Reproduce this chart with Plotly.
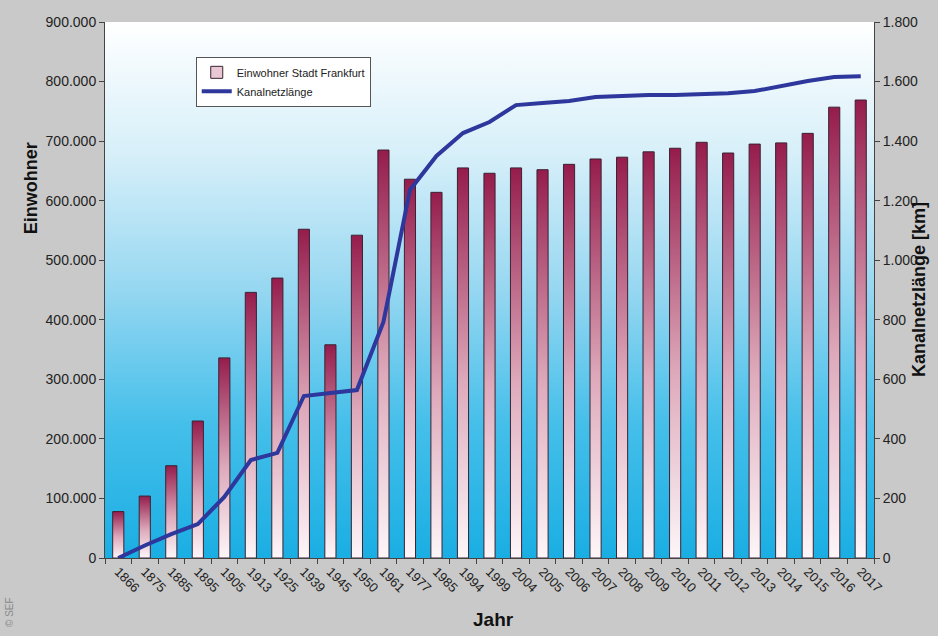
import plotly.graph_objects as go

years = ["1866", "1875", "1885", "1895", "1905", "1913", "1925", "1939", "1945", "1950",
         "1961", "1977", "1985", "1994", "1999", "2004", "2005", "2006", "2007", "2008",
         "2009", "2010", "2011", "2012", "2013", "2014", "2015", "2016", "2017"]
einwohner = [78000, 104000, 155000, 230000, 336000, 446000, 470000, 552000, 358000, 542000,
             685000, 636000, 614000, 655000, 646000, 655000, 652000, 661000, 670000, 673000,
             682000, 688000, 698000, 680000, 695000, 697000, 713000, 757000, 769000]
kanal = [0, 42, 80, 114, 205, 329, 353, 544, 554, 564,
         793, 1236, 1350, 1427, 1464, 1521, 1528, 1535, 1548, 1552,
         1555, 1555, 1558, 1561, 1568, 1585, 1602, 1615, 1618]

FONT = "Liberation Sans, Arial, sans-serif"
n = len(years)
idx = list(range(n))
bw = 0.42
xr = [-0.5, n - 0.5]
yr = [0, 900000]

fig = go.Figure()

# plot-area background gradient (white top -> cyan bottom)
fig.add_trace(go.Scatter(
    x=[xr[0], xr[1], xr[1], xr[0], xr[0]], y=[yr[0], yr[0], yr[1], yr[1], yr[0]],
    mode="lines", line=dict(width=0), fill="toself",
    fillgradient=dict(type="vertical",
                      colorscale=[[0, "#1aaee3"], [0.25, "#45bfea"], [0.5, "#96d7f1"],
                                  [0.75, "#d6eff9"], [1, "#ffffff"]]),
    hoverinfo="skip", showlegend=False))

# gradient bars
for i, v in zip(idx, einwohner):
    fig.add_trace(go.Scatter(
        x=[i - bw / 2, i + bw / 2, i + bw / 2, i - bw / 2, i - bw / 2],
        y=[0, 0, v, v, 0],
        mode="lines", line=dict(color="#3b2232", width=1), fill="toself",
        fillgradient=dict(type="vertical",
                          colorscale=[[0, "#fdf6f8"], [0.45, "#deaabb"], [1, "#951c4c"]]),
        hoverinfo="skip", showlegend=False))

fig.add_trace(go.Bar(
    x=idx, y=einwohner, width=bw, name="Einwohner Stadt Frankfurt",
    marker=dict(color="#e9c7d3", line=dict(color="#3b2232", width=1))))

fig.add_trace(go.Scatter(
    x=idx, y=kanal, yaxis="y2", mode="lines", name="Kanalnetzlänge",
    line=dict(color="#2d379c", width=4)))

axcol = "#444444"
fig.update_layout(
    width=938, height=636,
    margin=dict(l=105, r=64, t=22, b=78),
    paper_bgcolor="#c9c9c9", plot_bgcolor="#ffffff",
    separators=",.",
    font=dict(family=FONT, size=13, color="#222222"),
    showlegend=True,
    legend=dict(x=0.118, y=0.935, xanchor="left", yanchor="top",
                bgcolor="#ffffff", bordercolor="#555555", borderwidth=1,
                font=dict(family=FONT, size=11, color="#222222"),
                tracegroupgap=2),
    xaxis=dict(range=xr, tickmode="array", tickvals=idx, ticktext=years,
               tickangle=45, ticks="", showgrid=False, zeroline=False,
               showline=True, linecolor=axcol, linewidth=1,
               minor=dict(tick0=0.5, dtick=1, ticks="outside", ticklen=5, tickcolor=axcol),
               tickfont=dict(size=13)),
    yaxis=dict(range=yr, dtick=100000, tickformat=",d", ticks="outside", ticklen=5,
               tickcolor=axcol, showgrid=False, zeroline=False,
               showline=True, linecolor=axcol, linewidth=1, tickfont=dict(size=14)),
    yaxis2=dict(range=[0, 1800], dtick=200, tickformat=",d", overlaying="y", side="right",
                ticks="outside", ticklen=5, tickcolor=axcol, showgrid=False, zeroline=False,
                showline=True, linecolor=axcol, linewidth=1, tickfont=dict(size=14)),
    annotations=[
        dict(text="<b>Einwohner</b>", xref="paper", yref="paper", x=(31 - 105) / 769, y=0.69,
             xanchor="center", yanchor="middle",
             textangle=-90, showarrow=False, font=dict(size=18, color="#111111")),
        dict(text="<b>Kanalnetzlänge [km]</b>", xref="paper", yref="paper",
             x=(919 - 105) / 769, y=0.5, xanchor="center", yanchor="middle",
             textangle=-90, showarrow=False, font=dict(size=18, color="#111111")),
        dict(text="<b>Jahr</b>", xref="paper", yref="paper", x=(493 - 105) / 769,
             y=(558 - 619) / 536, xanchor="center", yanchor="middle",
             showarrow=False, font=dict(size=19, color="#111111")),
        dict(text="© SEF", xref="paper", yref="paper", x=(9 - 105) / 769,
             y=(558 - 612) / 536, xanchor="center", yanchor="middle",
             textangle=-90, showarrow=False, font=dict(size=10, color="#8a8a8a")),
    ],
)

fig.write_html("out.html")
